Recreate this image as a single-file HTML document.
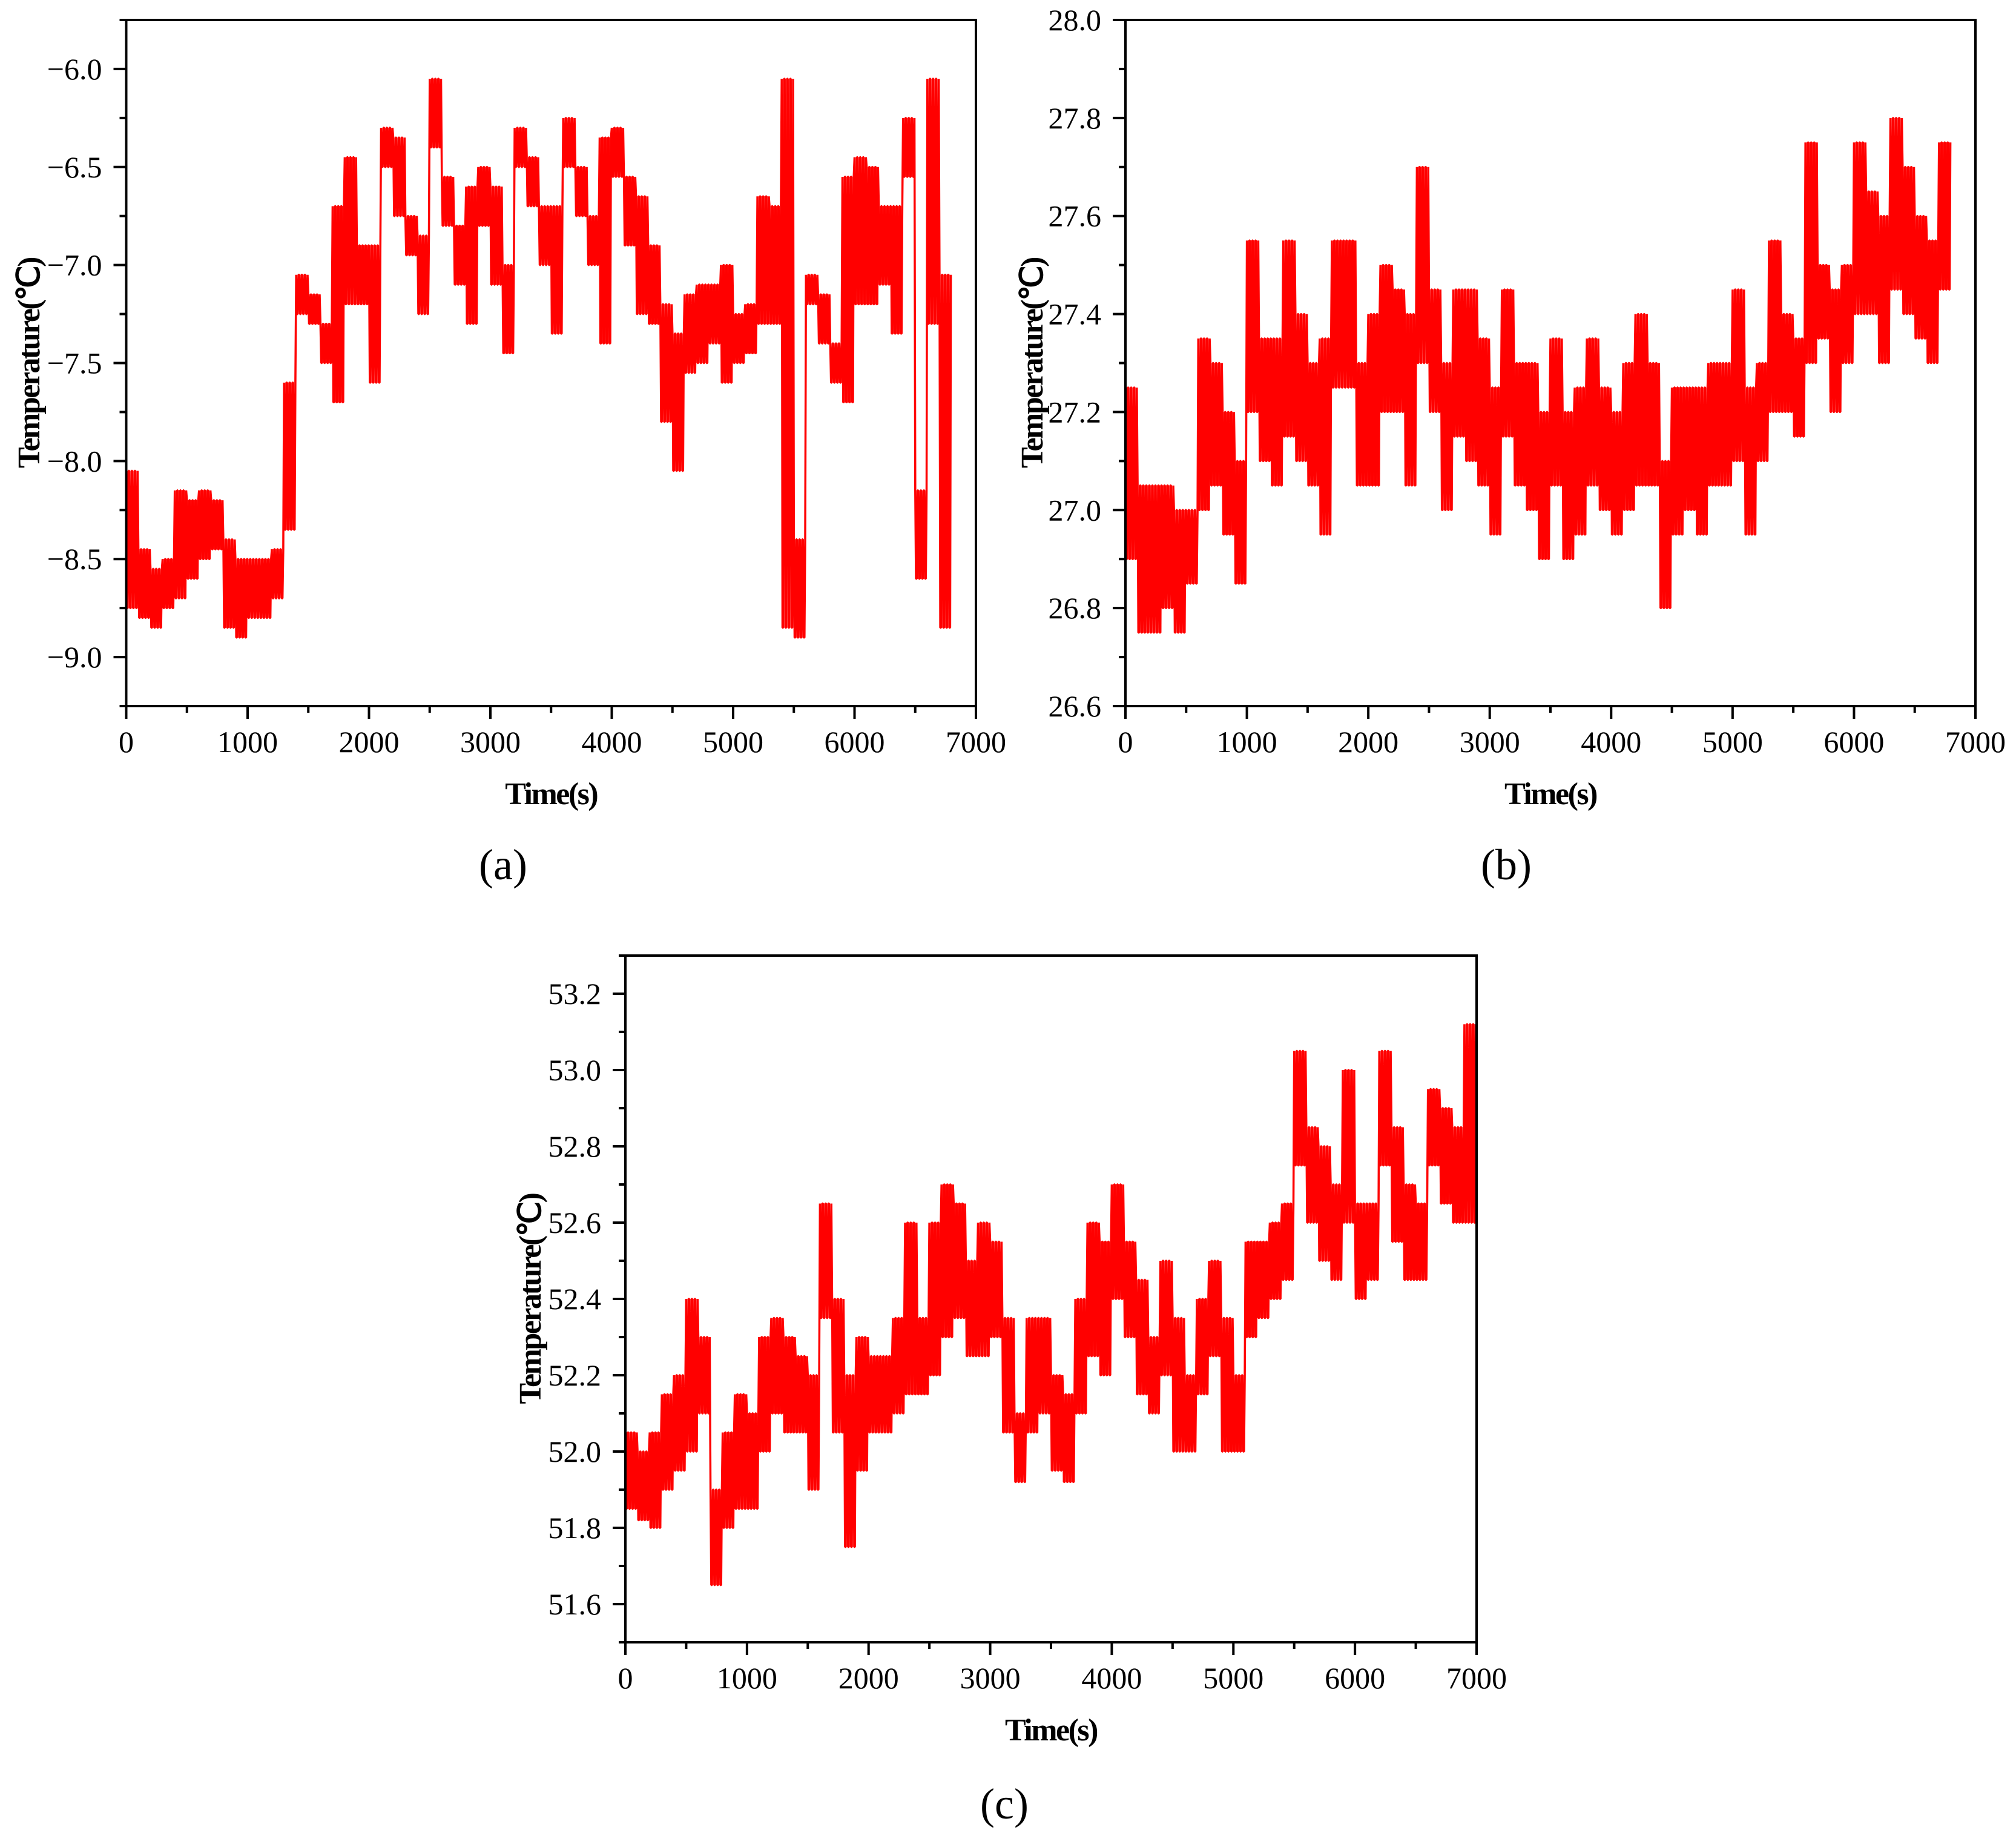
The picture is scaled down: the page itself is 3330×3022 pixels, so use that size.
<!DOCTYPE html>
<html><head><meta charset="utf-8"><style>
html,body{margin:0;padding:0;background:#fff;}
svg{display:block;font-family:"Liberation Serif",serif;}
</style></head><body>
<svg id="fig" width="3330" height="3022" viewBox="0 0 3330 3022" xmlns="http://www.w3.org/2000/svg">
<rect width="3330" height="3022" fill="#fff"/>
</svg>
<script>
const times = [0,100,200,300,400,500,600,700,800,900,1000,1100,1200,1300,1400,1500,1600,1700,1800,1900,2000,2100,2200,2300,2400,2500,2600,2700,2800,2900,3000,3100,3200,3300,3400,3500,3600,3700,3800,3900,4000,4100,4200,4300,4400,4500,4600,4700,4800,4900,5000,5100,5200,5300,5400,5500,5600,5700,5800,5900,6000,6100,6200,6300,6400,6500,6600,6700,6800,6900];
const xTicks = [0,1000,2000,3000,4000,5000,6000,7000];

const loA = [-8.75,-8.8,-8.85,-8.75,-8.7,-8.6,-8.5,-8.45,-8.85,-8.9,-8.8,-8.8,-8.7,-8.35,-7.25,-7.3,-7.5,-7.7,-7.2,-7.2,-7.6,-6.5,-6.75,-6.95,-7.25,-6.4,-6.8,-7.1,-7.3,-6.8,-7.1,-7.45,-6.5,-6.7,-7.0,-7.35,-6.5,-6.75,-7.0,-7.4,-6.55,-6.9,-7.25,-7.3,-7.8,-8.05,-7.55,-7.5,-7.4,-7.6,-7.5,-7.45,-7.3,-7.3,-8.85,-8.9,-7.2,-7.4,-7.6,-7.7,-7.2,-7.2,-7.1,-7.35,-6.55,-8.6,-7.3,-8.85];
const hiA = [-8.05,-8.45,-8.55,-8.5,-8.15,-8.2,-8.15,-8.2,-8.4,-8.5,-8.5,-8.5,-8.45,-7.6,-7.05,-7.15,-7.3,-6.7,-6.45,-6.9,-6.9,-6.3,-6.35,-6.75,-6.85,-6.05,-6.55,-6.8,-6.6,-6.5,-6.6,-7.0,-6.3,-6.45,-6.7,-6.7,-6.25,-6.5,-6.75,-6.35,-6.3,-6.55,-6.65,-6.9,-7.2,-7.35,-7.15,-7.1,-7.1,-7.0,-7.25,-7.2,-6.65,-6.7,-6.05,-8.4,-7.05,-7.15,-7.4,-6.55,-6.45,-6.5,-6.7,-6.7,-6.25,-8.15,-6.05,-7.05];
const yTicksA = [-9.0,-8.5,-8.0,-7.5,-7.0,-6.5,-6.0];
const yLabelsA = ["\u22129.0","\u22128.5","\u22128.0","\u22127.5","\u22127.0","\u22126.5","\u22126.0"];

const loB = [26.9,26.75,26.75,26.8,26.75,26.85,27.0,27.05,26.95,26.85,27.2,27.1,27.05,27.15,27.1,27.05,26.95,27.25,27.25,27.05,27.05,27.2,27.2,27.05,27.3,27.2,27.0,27.15,27.1,27.05,26.95,27.15,27.05,27.0,26.9,27.05,26.9,26.95,27.05,27.0,26.95,27.0,27.05,27.05,26.8,26.95,27.0,26.95,27.05,27.05,27.1,26.95,27.1,27.2,27.2,27.15,27.3,27.35,27.2,27.3,27.4,27.4,27.3,27.45,27.4,27.35,27.3,27.45];
const hiB = [27.25,27.05,27.05,27.05,27.0,27.0,27.35,27.3,27.2,27.1,27.55,27.35,27.35,27.55,27.4,27.3,27.35,27.55,27.55,27.3,27.4,27.5,27.45,27.4,27.7,27.45,27.3,27.45,27.45,27.35,27.25,27.45,27.3,27.3,27.2,27.35,27.2,27.25,27.35,27.25,27.2,27.3,27.4,27.3,27.1,27.25,27.25,27.25,27.3,27.3,27.45,27.25,27.3,27.55,27.4,27.35,27.75,27.5,27.45,27.5,27.75,27.65,27.6,27.8,27.7,27.6,27.55,27.75];
const yTicksB = [26.6,26.8,27.0,27.2,27.4,27.6,27.8,28.0];
const yLabelsB = ["26.6","26.8","27.0","27.2","27.4","27.6","27.8","28.0"];

const loC = [51.85,51.82,51.8,51.9,51.95,52.0,52.1,51.65,51.8,51.85,51.85,52.0,52.1,52.05,52.05,51.9,52.35,52.05,51.75,51.95,52.05,52.05,52.1,52.15,52.15,52.2,52.3,52.35,52.25,52.25,52.3,52.05,51.92,52.05,52.1,51.95,51.92,52.1,52.25,52.2,52.4,52.3,52.15,52.1,52.2,52.0,52.0,52.15,52.25,52.0,52.0,52.3,52.35,52.4,52.45,52.75,52.6,52.5,52.45,52.6,52.4,52.45,52.75,52.55,52.45,52.45,52.75,52.65,52.6,52.6];
const hiC = [52.05,52.0,52.05,52.15,52.2,52.4,52.3,51.9,52.05,52.15,52.1,52.3,52.35,52.3,52.25,52.2,52.65,52.4,52.2,52.3,52.25,52.25,52.35,52.6,52.35,52.6,52.7,52.65,52.5,52.6,52.55,52.35,52.1,52.35,52.35,52.2,52.15,52.4,52.6,52.55,52.7,52.55,52.45,52.3,52.5,52.35,52.2,52.4,52.5,52.35,52.2,52.55,52.55,52.6,52.65,53.05,52.85,52.8,52.7,53.0,52.65,52.65,53.05,52.85,52.7,52.65,52.95,52.9,52.85,53.12];
const yTicksC = [51.6,51.8,52.0,52.2,52.4,52.6,52.8,53.0,53.2];
const yLabelsC = ["51.6","51.8","52.0","52.2","52.4","52.6","52.8","53.0","53.2"];

const NS = "http://www.w3.org/2000/svg";
const fig = document.getElementById('fig');
function mk(tag, attrs, parent){
  const e = document.createElementNS(NS, tag);
  for (const k in attrs) e.setAttribute(k, attrs[k]);
  (parent||fig).appendChild(e);
  return e;
}

function panel(id, L, R, T, B, xMin, xMax, yMin, yMax, yTicks, yLabels, lo, hi, titleX, labelText, labelX, labelY){
  const g = mk('g', {});
  
  
  const sx = v => L + (v - xMin) / (xMax - xMin) * (R - L);
  const sy = v => B - (v - yMin) / (yMax - yMin) * (B - T);

  const clipId = 'clip-' + id;
  const cp = mk('clipPath', {id: clipId}, g);
  mk('rect', {x: L, y: T, width: R - L, height: B - T}, cp);
  const Z = 8;
  let d = '';
  for (let i = 0; i < lo.length; i++) {
    const t = times[i];
    for (let k = 0; k < Z; k++) {
      const x1 = sx(t + k * 100 / Z), x2 = sx(t + (k + 0.5) * 100 / Z);
      const a = (k % 2 === 0) ? hi[i] : lo[i];
      const b = (k % 2 === 0) ? lo[i] : hi[i];
      d += (d ? 'L' : 'M') + x1.toFixed(1) + ',' + sy(a).toFixed(1) + 'L' + x2.toFixed(1) + ',' + sy(b).toFixed(1);
    }
  }
  const line = mk('path', {d: d, fill: 'none', stroke: '#ff0000', 'stroke-width': 3.5, 'stroke-linejoin': 'bevel', 'clip-path': 'url(#' + clipId + ')'}, g);
  
  

  const frame = mk('rect', {x: L, y: T, width: R - L, height: B - T, fill: 'none', stroke: '#000', 'stroke-width': 4}, g);
  
  

  for (let i = 0; i < xTicks.length; i++) {
    const x = sx(xTicks[i]);
    const tk = mk('line', {x1: x, x2: x, y1: B, y2: B + 21, stroke: '#000', 'stroke-width': 4}, g);
    
    
    if (i < xTicks.length - 1) {
      const xm = sx((xTicks[i] + xTicks[i + 1]) / 2);
      const mt = mk('line', {x1: xm, x2: xm, y1: B, y2: B + 11, stroke: '#000', 'stroke-width': 4}, g);
      
      
    }
    const lb = mk('text', {x: x, y: B + 76, 'font-size': 50, 'text-anchor': 'middle', fill: '#000'}, g);
    lb.textContent = String(xTicks[i]);
    
    
  }
  for (let i = 0; i < yTicks.length; i++) {
    const y = sy(yTicks[i]);
    const tk = mk('line', {x1: L - 21, x2: L, y1: y, y2: y, stroke: '#000', 'stroke-width': 4}, g);
    
    
    const lb = mk('text', {x: L - 40, y: y + 17, 'font-size': 50, 'text-anchor': 'end', fill: '#000'}, g);
    lb.textContent = yLabels[i];
    
    
  }
  const step = yTicks[1] - yTicks[0];
  for (let v = yTicks[0] - step / 2; v <= yMax + 1e-9; v += step) {
    if (v < yMin - 1e-9) continue;
    const y = sy(v);
    const mt = mk('line', {x1: L - 11, x2: L, y1: y, y2: y, stroke: '#000', 'stroke-width': 4}, g);
    
    
  }
  const xt = mk('text', {x: (L + R) / 2, y: B + 162, 'font-size': 52, 'font-weight': 'bold', 'text-anchor': 'middle', 'letter-spacing': -2.5, fill: '#000'}, g);
  xt.textContent = 'Time(s)';
  
  
  const cy = (T + B) / 2;
  const yt = mk('text', {x: titleX, y: cy, 'font-size': 52, 'font-weight': 'bold', 'text-anchor': 'middle', 'letter-spacing': -2.5, fill: '#000', transform: 'rotate(-90 ' + titleX + ' ' + cy + ')', dy: 18}, g);
  yt.textContent = 'Temperature(\u2103)';
  
  
  const pl = mk('text', {x: labelX, y: labelY, 'font-size': 72, 'text-anchor': 'middle', fill: '#000'}, g);
  pl.textContent = labelText;
  
  
}

panel('a', 208.5, 1612, 33, 1166, 0, 7000, -9.25, -5.75, yTicksA, yLabelsA, loA, hiA, 47, '(a)', 831, 1452);
panel('b', 1859, 3263, 33, 1166, 0, 7000, 26.6, 28.0, yTicksB, yLabelsB, loB, hiB, 1704, '(b)', 2488, 1452);
panel('c', 1033, 2439, 1578, 2712, 0, 7000, 51.5, 53.3, yTicksC, yLabelsC, loC, hiC, 875, '(c)', 1659, 3003);
</script>
</body></html>
